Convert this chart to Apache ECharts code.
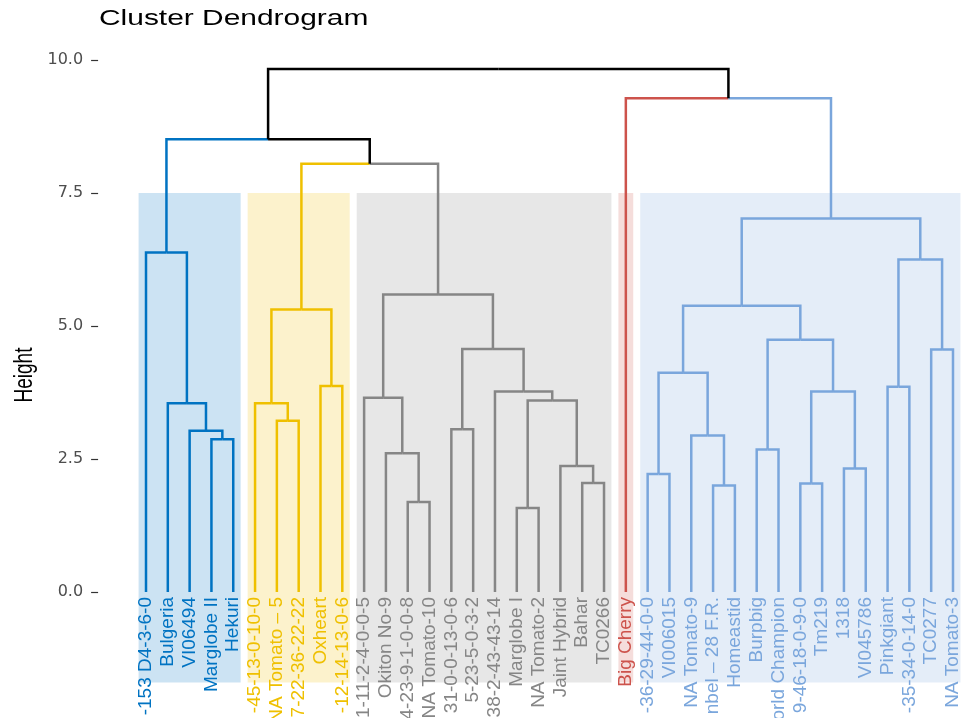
<!DOCTYPE html>
<html>
<head>
<meta charset="utf-8">
<script src="https://cdn.jsdelivr.net/npm/echarts@6/dist/echarts.min.js"></script>
<style>
  html, body { margin: 0; padding: 0; background: #ffffff; }
  #chart { width: 965px; height: 718px; }
</style>
</head>
<body>
<div id="chart"></div>
<script>
// Leaf labels, left to right in dendrogram order
const leafLabels = [
  '-153 D4-3-6-0', 'Bulgeria', 'VI06494', 'Marglobe II', 'Hekuri',
  '-45-13-0-10-0', 'NA Tomato – 5', '7-22-36-22-22', 'Oxheart', '-12-14-13-0-6',
  '1-11-2-4-0-0-5', 'Okiton No-9', '4-23-9-1-0-0-8', 'NA Tomato-10', '31-0-0-13-0-6',
  '5-23-5-0-3-2', '38-2-43-43-14', 'Marglobe I', 'NA Tomato-2', 'Jaint Hybrid',
  'Bahar', 'TC0266',
  'Big Cherry',
  '-36-29-44-0-0', 'VI006015', 'NA Tomato-9', 'nbel – 28 F.R.', 'Homeastid',
  'Burpbig', 'World Champion', '9-46-18-0-9-0', 'Tm219', '1318',
  'VI045786', 'Pinkgiant', '-35-34-0-14-0', 'TC0277', 'NA Tomato-3'
];

// Cluster of each leaf (index into clusterColors)
const leafCluster = [
  0, 0, 0, 0, 0,
  1, 1, 1, 1, 1,
  2, 2, 2, 2, 2, 2, 2, 2, 2, 2, 2, 2,
  3,
  4, 4, 4, 4, 4, 4, 4, 4, 4, 4, 4, 4, 4, 4, 4
];
const clusterColors = ['#0073C2', '#EFC000', '#868686', '#CD534C', '#7AA6DC'];
const upperColor = '#000000';

// Agglomeration steps, hclust style:
// negative = leaf number (1-based), positive = earlier step (1-based)
const mergeLeft  = [ -4, -3, -2, -1,  -7, -6, -9,  6,
                    -13,-12,-11,-15, -18,-21,-20, 13,-17, 12, 11,
                      8,  4,
                    -24,-27,-26, 22, -29,-31,-33, 27, 26, 25,-35,-37, 32, 31,
                    -23, 21 ];
const mergeRight = [ -5,  1,  2,  3,  -8,  5,-10,  7,
                    -14,  9, 10,-16, -19,-22, 14, 15, 16, 17, 18,
                     19, 20,
                    -25,-28, 23, 24, -30,-32,-34, 28, 29, 30,-36,-38, 33, 34,
                     35, 36 ];
const mergeHeight = [2.87, 3.03, 3.55, 6.38,  3.22, 3.55, 3.87, 5.31,
                     1.69, 2.61, 3.65, 3.06, 1.58, 2.05, 2.37, 3.60, 3.77, 4.57, 5.59,
                     8.05, 8.51,
                     2.22, 2.00, 2.94, 4.12, 2.68, 2.04, 2.32, 3.77, 4.74, 5.38, 3.86, 4.56, 6.25, 7.02,
                     9.28, 9.83];

// Vertical extent of the shaded cluster boxes (they reach below the baseline)
const rectTop = 7.5;
const rectBottom = -1.7;
const rectHalfWidth = 0.34;

// ---- build the tree geometry in data units ----
const nodes = [];
function childInfo(id) {
  if (id < 0) {
    const i = -id - 1;
    return { x: i, h: 0, cluster: leafCluster[i] };
  }
  return nodes[id - 1];
}
mergeLeft.forEach((l, k) => {
  const a = childInfo(l);
  const b = childInfo(mergeRight[k]);
  const cluster = a.cluster === b.cluster ? a.cluster : -1;
  nodes.push({ x: (a.x + b.x) / 2, h: mergeHeight[k], cluster: cluster, a: a, b: b });
});

// Each branch: [parentX, parentHeight, childX, childHeight, cluster]
const branches = [];
nodes.forEach(n => {
  [n.a, n.b].forEach(c => branches.push([n.x, n.h, c.x, c.h, c.cluster]));
});

// Cluster boxes: [xStart, xEnd, yBottom, yTop, cluster]
const boxes = clusterColors.map((_, ci) => {
  const idx = leafCluster.map((c, i) => (c === ci ? i : null)).filter(v => v !== null);
  return [Math.min(...idx) - rectHalfWidth, Math.max(...idx) + rectHalfWidth, rectBottom, rectTop, ci];
});

const chart = echarts.init(document.getElementById('chart'), null, { renderer: 'canvas' });

const option = {
  animation: false,
  backgroundColor: '#ffffff',
  grid: {
    left: 135.1, top: 60, width: 828.8, height: 532,
    containLabel: false,
    outerBoundsMode: 'none'
  },
  xAxis: [
    {
      type: 'value', min: -0.5, max: leafLabels.length - 0.5, show: false,
      axisLine: { onZero: false }
    },
    {
      type: 'category',
      data: leafLabels,
      boundaryGap: true,
      position: 'bottom',
      z: 10,
      axisLine: { show: false, onZero: false },
      axisTick: { show: false },
      splitLine: { show: false },
      axisLabel: {
        interval: 0,
        rotate: 90,
        margin: 5,
        hideOverlap: false,
        fontFamily: 'Liberation Sans, Arial, sans-serif',
        fontSize: 19,
        color: (value, index) => clusterColors[leafCluster[index]]
      }
    }
  ],
  yAxis: {
    type: 'value',
    min: 0,
    max: 10,
    interval: 2.5,
    offset: 37,
    axisLine: { show: false, onZero: false },
    axisTick: { show: true, length: 7, lineStyle: { color: '#333333', width: 1.2 } },
    splitLine: { show: false },
    axisLabel: {
      margin: 15,
      fontFamily: 'DejaVu Sans, sans-serif',
      fontSize: 16,
      color: '#4D4D4D',
      formatter: v => v.toFixed(1)
    }
  },
  graphic: [
    {
      type: 'text',
      x: 99, y: 18.7,
      scaleX: 1.36,
      style: {
        text: 'Cluster Dendrogram',
        font: '22px "Liberation Sans", Arial, sans-serif',
        fill: '#000000',
        align: 'left',
        verticalAlign: 'middle'
      }
    },
    {
      type: 'text',
      x: 24.5, y: 375,
      rotation: Math.PI / 2,
      scaleY: 1.35,
      style: {
        text: 'Height',
        font: '19px "Liberation Sans", Arial, sans-serif',
        fill: '#000000',
        align: 'center',
        verticalAlign: 'middle'
      }
    }
  ],
  series: [
    {
      type: 'custom',
      name: 'boxes',
      xAxisIndex: 0,
      yAxisIndex: 0,
      z: 1,
      clip: false,
      data: boxes,
      renderItem: (params, api) => {
        const p0 = api.coord([api.value(0), api.value(3)]);
        const p1 = api.coord([api.value(1), api.value(2)]);
        return {
          type: 'rect',
          shape: { x: p0[0], y: p0[1], width: p1[0] - p0[0], height: p1[1] - p0[1] },
          style: { fill: clusterColors[api.value(4)], opacity: 0.2 }
        };
      }
    },
    {
      type: 'custom',
      name: 'branches',
      xAxisIndex: 0,
      yAxisIndex: 0,
      z: 3,
      clip: false,
      data: branches,
      renderItem: (params, api) => {
        const x1 = api.value(0), h1 = api.value(1), x2 = api.value(2), h2 = api.value(3);
        const ci = api.value(4);
        return {
          type: 'polyline',
          shape: { points: [api.coord([x1, h1]), api.coord([x2, h1]), api.coord([x2, h2])] },
          style: {
            stroke: ci >= 0 ? clusterColors[ci] : upperColor,
            lineWidth: 2.5,
            fill: null,
            lineJoin: 'miter',
            lineCap: 'butt'
          }
        };
      }
    }
  ]
};

chart.setOption(option);
</script>
</body>
</html>
